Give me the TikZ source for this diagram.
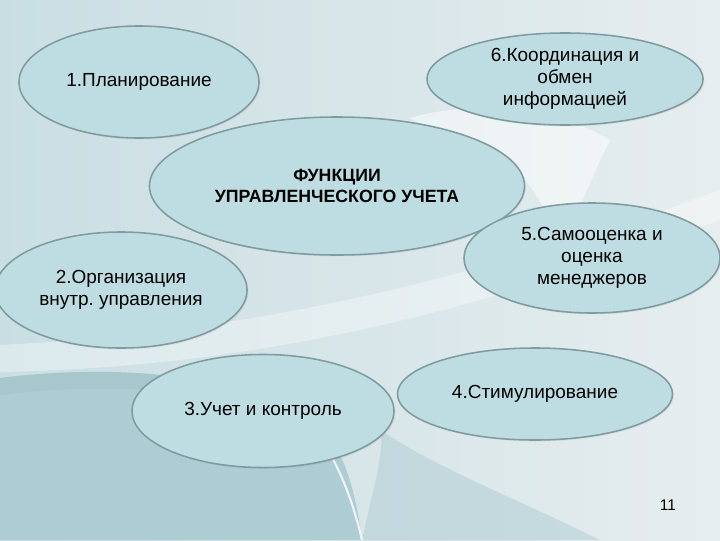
\documentclass[tikz,border=0pt]{standalone}
\usepackage{fontspec}
\setmainfont{Liberation Sans}
\usepackage{tikz}
\usetikzlibrary{shapes.geometric,shadows}
\definecolor{bgleft}{HTML}{C9DEE3}
\definecolor{bgright}{HTML}{E6EDEF}
\definecolor{bgdark}{HTML}{ADCCD3}
\definecolor{ovfill}{HTML}{BEDDE2}
\definecolor{ovline}{HTML}{7F9B9E}
\tikzset{
 func/.style={ellipse, draw=ovline, line width=1.1pt, fill=ovfill, inner sep=0pt,
   align=center, font=\fontsize{13.5}{15.5}\selectfont,
   drop shadow={shadow xshift=1pt, shadow yshift=-1pt, opacity=0.12}},
 funcmain/.style={func, font=\bfseries\fontsize{12.6}{15}\selectfont}
}
\frenchspacing

\begin{document}
\begin{tikzpicture}[x=0.025cm, y=-0.025cm]
 \useasboundingbox (0,0) rectangle (720,540);
 \clip (0,0) rectangle (720,540);
 % background
 \shade[left color=bgleft, right color=bgright] (0,0) rectangle (720,540);
 \fill[white, opacity=0.35] (0,345) .. controls (200,335) and (420,300) .. (720,190) -- (720,220) .. controls (420,335) and (200,368) .. (0,372) -- cycle;
 \fill[white, opacity=0.5] (410,118) .. controls (480,98) and (560,110) .. (610,140) .. controls (590,180) and (575,220) .. (560,250) .. controls (545,200) and (520,160) .. (470,140) .. controls (440,130) and (420,125) .. (410,118) -- cycle;
 \fill[bgdark] (0,378) .. controls (140,360) and (300,380) .. (340,455) .. controls (352,480) and (358,510) .. (362,540) -- (0,540) -- cycle;
 \fill[bgdark!80!black, opacity=0.12] (0,378) .. controls (140,360) and (300,380) .. (340,455) -- (332,455) .. controls (290,395) and (140,378) .. (0,395) -- cycle;
 \fill[bgdark, opacity=0.5] (362,540) .. controls (375,480) and (385,450) .. (380,430) .. controls (440,470) and (520,500) .. (600,540) -- cycle;
 \draw[white, line width=1.5pt, opacity=0.8] (328,450) .. controls (345,480) and (355,510) .. (362,540);
 % functions
 \node[func, minimum width=6cm, minimum height=2.8cm] (plan) at (139,82) {1.Планирование};
 \node[func, minimum width=6.9cm, minimum height=2.3cm] (coord) at (565,79) {6.Координация и\\обмен\\информацией};
 \node[funcmain, minimum width=9.375cm, minimum height=3.45cm] (main) at (337,186) {ФУНКЦИИ\\УПРАВЛЕНЧЕСКОГО УЧЕТА};
 \node[func, minimum width=6.4cm, minimum height=2.75cm] (self) at (592,258) {5.Самооценка и\\оценка\\менеджеров};
 \node[func, minimum width=6.3cm, minimum height=2.9cm] (org) at (121,290) {2.Организация\\внутр. управления};
 \node[func, minimum width=6.55cm, minimum height=2.825cm] (ctrl) at (263,411) {3.Учет и контроль};
 \node[func, minimum width=6.875cm, minimum height=2.3cm] (stim) at (535,394) {4.Стимулирование};
 \node[font=\fontsize{11}{13}\selectfont] (page) at (668,505) {11};
\end{tikzpicture}
\end{document}
